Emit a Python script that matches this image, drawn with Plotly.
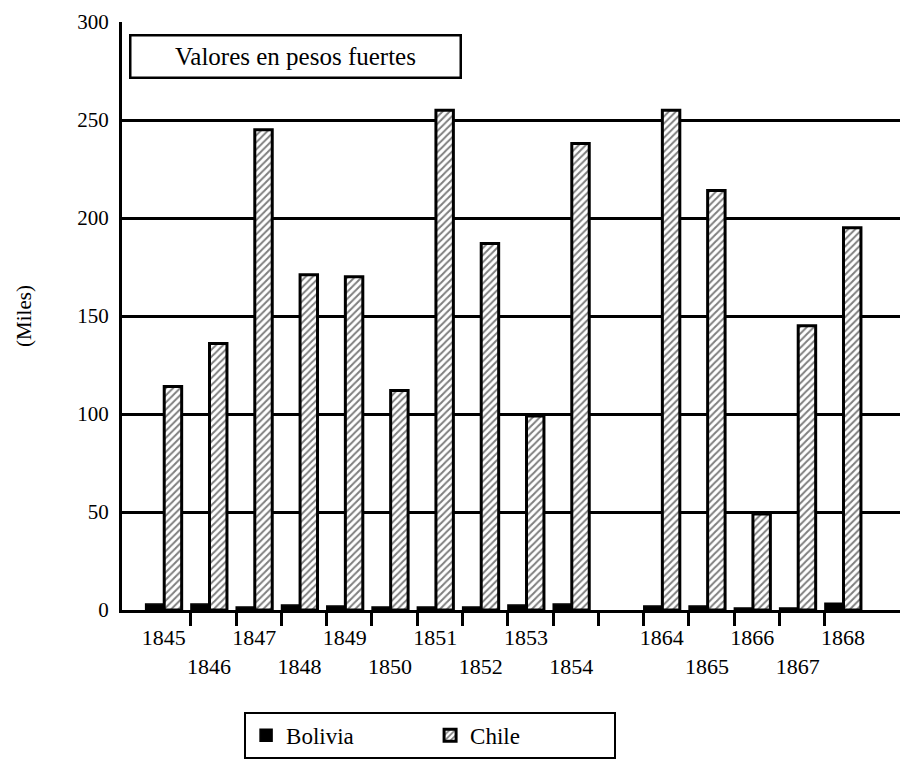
import plotly.graph_objects as go

categories = ["1845", "1846", "1847", "1848", "1849", "1850", "1851", "1852", "1853", "1854",
              "", "1864", "1865", "1866", "1867", "1868"]
bolivia = [3, 3, 1.5, 2.5, 2, 1.5, 1.5, 1.5, 2.5, 3, None, 2, 2, 1, 1, 3.5]
chile = [114, 136, 245, 171, 170, 112, 255, 187, 99, 238, None, 255, 214, 49, 145, 195]
yticks = [0, 50, 100, 150, 200, 250, 300]

FONT = "Liberation Serif, Times New Roman, serif"
x = list(range(len(categories)))

# staggered tick labels (alternate rows by label order)
label_x, label_t = [], []
k = 0
for i, c in enumerate(categories):
    if c == "":
        continue
    label_x.append(i)
    label_t.append(c if k % 2 == 0 else "<br>" + c)
    k += 1
minor_vals = [i + 0.6 for i in range(len(categories) - 1)]

fig = go.Figure()
fig.add_trace(go.Bar(
    x=x, y=bolivia, name="Bolivia",
    marker=dict(color="black", line=dict(color="black", width=1.5)),
))
fig.add_trace(go.Bar(
    x=x, y=chile, name="Chile",
    marker=dict(color="white", line=dict(color="black", width=3),
                pattern=dict(shape="/", fgcolor="black", bgcolor="white",
                             size=5, solidity=0.4)),
))

fig.update_layout(
    width=900, height=769,
    margin=dict(l=122, r=0, t=22, b=159),
    paper_bgcolor="white", plot_bgcolor="white",
    barmode="group", bargap=0.18, bargroupgap=0.06,
    font=dict(family=FONT, size=20, color="black"),
    showlegend=True,
    legend=dict(
        orientation="h", x=0.396, xanchor="center", y=-0.173, yanchor="top",
        bordercolor="black", borderwidth=2, bgcolor="white",
        font=dict(family=FONT, size=23, color="black"),
        entrywidth=139, entrywidthmode="pixels",
    ),
    annotations=[dict(
        text="Valores en pesos fuertes", xref="paper", yref="paper",
        x=0.2224, y=0.9413, xanchor="center", yanchor="middle",
        showarrow=False, width=328, height=40, borderpad=0,
        bordercolor="black", borderwidth=2.5, bgcolor="white",
        font=dict(family=FONT, size=25, color="black"),
    )],
)

fig.update_xaxes(
    range=[-0.92, 16.26],
    tickmode="array", tickvals=label_x, ticktext=label_t, tickangle=0,
    ticks="outside", ticklen=6, tickcolor="rgba(0,0,0,0)",
    showgrid=False, zeroline=False,
    showline=True, linecolor="black", linewidth=3,
    tickfont=dict(family=FONT, size=22, color="black"),
    minor=dict(tickmode="array", tickvals=minor_vals, ticks="outside",
               ticklen=13, tickwidth=2.5, tickcolor="black", showgrid=False),
)
fig.update_yaxes(
    range=[0, 300],
    tickmode="array", tickvals=yticks,
    showgrid=True, gridcolor="black", gridwidth=3,
    zeroline=False,
    showline=True, linecolor="black", linewidth=3,
    ticks="outside", ticklen=6, tickcolor="rgba(0,0,0,0)",
    tickfont=dict(family=FONT, size=21, color="black"),
    title=dict(text="(Miles)", standoff=40, font=dict(family=FONT, size=21, color="black")),
)

fig.write_html("out.html",
               config={"displayModeBar": False},
               post_script="document.body.style.margin='0';document.body.style.overflow='hidden';")
